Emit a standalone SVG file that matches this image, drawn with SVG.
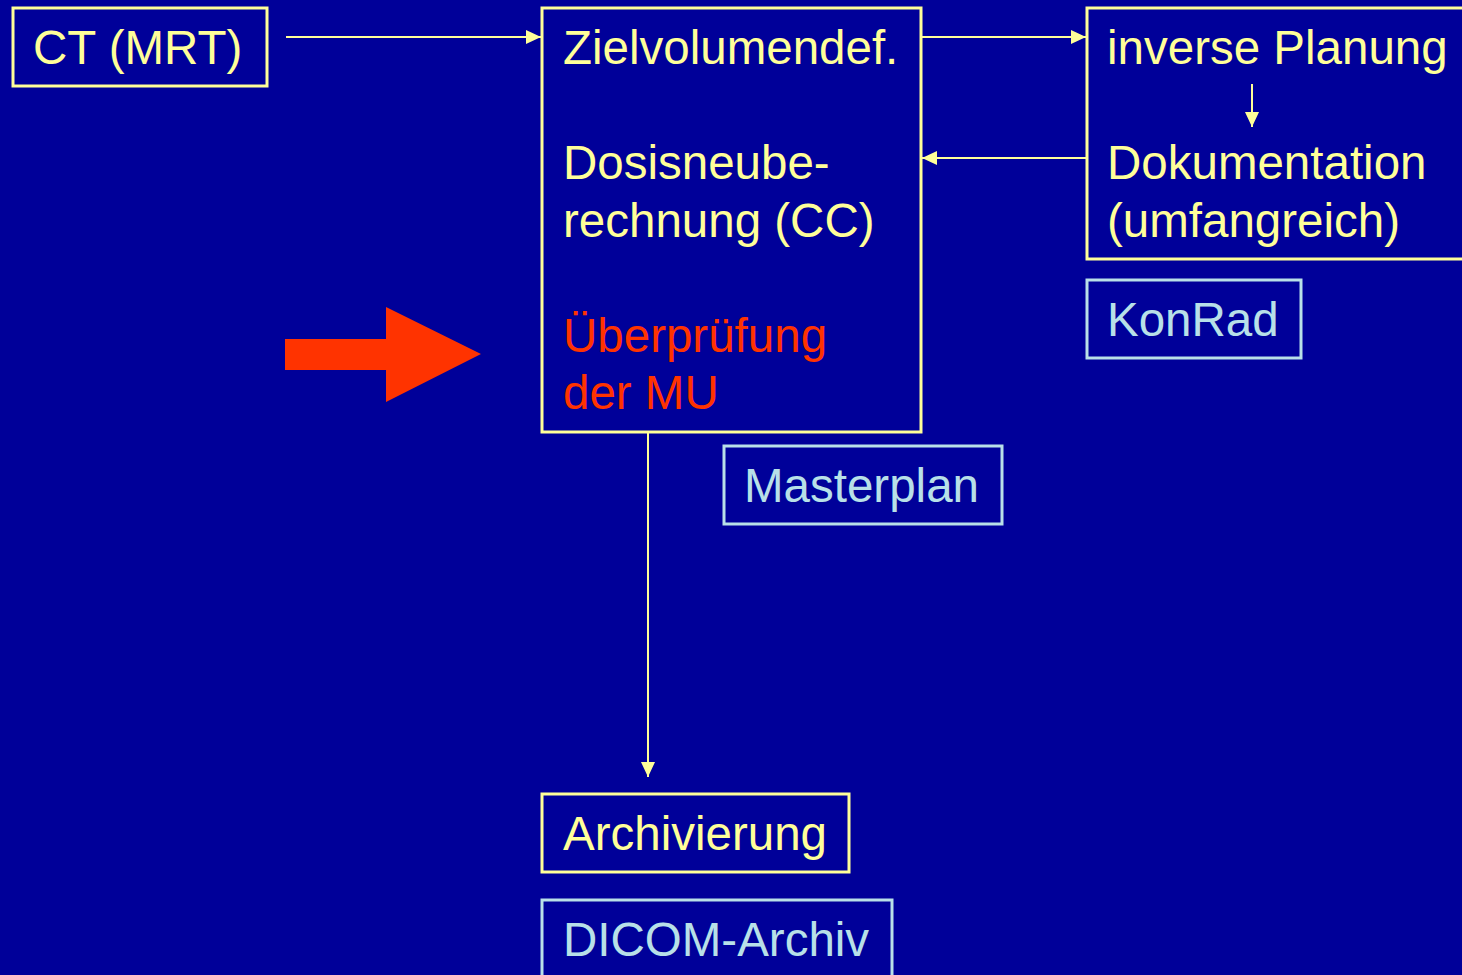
<svg xmlns="http://www.w3.org/2000/svg" width="1462" height="975" viewBox="0 0 1462 975">
<defs>
<style>
.bg{fill:#000099}
.yb{fill:none;stroke:#FFFF99;stroke-width:3}
.lb{fill:none;stroke:#B8E0E8;stroke-width:3}
.t{font-family:"Liberation Sans",Arial,sans-serif;font-size:47.5px}
.ty{fill:#FFFF99}
.tl{fill:#B8E0E8}
.tr{fill:#FF3300}
.c{stroke:#FFFF99;stroke-width:2;fill:none}
</style>
<marker id="ah" viewBox="0 0 15 14" refX="15" refY="7" markerWidth="15" markerHeight="14" markerUnits="userSpaceOnUse" orient="auto">
<path d="M0,0 L15,7 L0,14 Z" fill="#FFFF99"/>
</marker>
</defs>
<rect class="bg" x="0" y="0" width="1462" height="975"/>
<g id="ct">
<rect class="yb" x="13" y="8" width="254" height="78"/>
<text class="t ty" x="33" y="64">CT (MRT)</text>
</g>
<g id="main">
<rect class="yb" x="542" y="8" width="379" height="424"/>
<text class="t ty" x="563" y="64">Zielvolumendef.</text>
<text class="t ty" x="563" y="179">Dosisneube-</text>
<text class="t ty" x="563" y="237">rechnung (CC)</text>
<text class="t tr" x="563" y="352">Überprüfung</text>
<text class="t tr" x="563" y="409">der MU</text>
</g>
<g id="inverse">
<rect class="yb" x="1087" y="8" width="385" height="251"/>
<text class="t ty" x="1107" y="64">inverse Planung</text>
<text class="t ty" x="1107" y="179">Dokumentation</text>
<text class="t ty" x="1107" y="237">(umfangreich)</text>
</g>
<g id="konrad">
<rect class="lb" x="1087" y="280" width="214" height="78"/>
<text class="t tl" x="1107" y="336">KonRad</text>
</g>
<g id="masterplan">
<rect class="lb" x="724" y="446" width="278" height="78"/>
<text class="t tl" x="744" y="502">Masterplan</text>
</g>
<g id="archivierung">
<rect class="yb" x="542" y="794" width="307" height="78"/>
<text class="t ty" x="563" y="850">Archivierung</text>
</g>
<g id="dicom">
<rect class="lb" x="542" y="900" width="350" height="90"/>
<text class="t tl" x="563" y="956">DICOM-Archiv</text>
</g>
<g id="highlight">
<polygon points="285,339 386,339 386,307 481,354 386,402 386,370 285,370" fill="#FF3300"/>
</g>
<g id="connectors">
<line class="c" x1="286" y1="37" x2="541" y2="37" marker-end="url(#ah)"/>
<line class="c" x1="921" y1="37" x2="1086" y2="37" marker-end="url(#ah)"/>
<line class="c" x1="1086" y1="158" x2="922" y2="158" marker-end="url(#ah)"/>
<line class="c" x1="648" y1="432" x2="648" y2="777" marker-end="url(#ah)"/>
<line class="c" x1="1252" y1="84" x2="1252" y2="127" marker-end="url(#ah)"/>
</g>
</svg>
